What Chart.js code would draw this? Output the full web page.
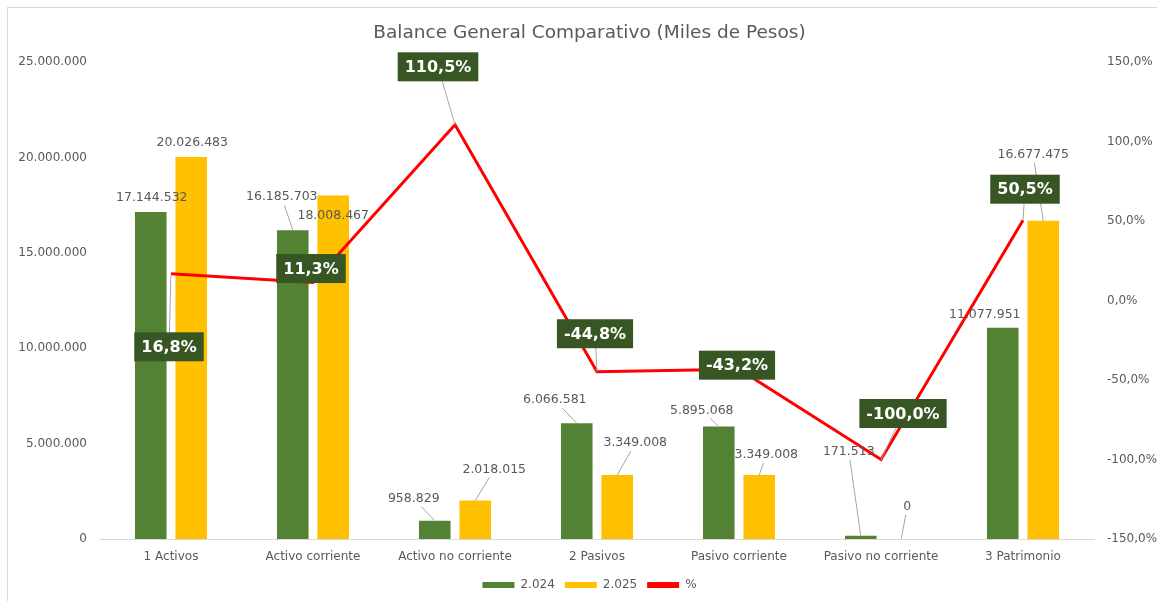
<!DOCTYPE html>
<html>
<head>
<meta charset="utf-8">
<script src="https://cdn.jsdelivr.net/npm/chart.js@4.4.1/dist/chart.umd.min.js"></script>
<style>
  body { margin: 0; background: #ffffff; }
  #wrap { width: 1157px; height: 601px; }
</style>
</head>
<body>
<div id="wrap"><canvas id="balance" width="1157" height="601"></canvas></div>
<script>
const categories = ["1 Activos", "Activo corriente", "Activo no corriente", "2 Pasivos", "Pasivo corriente", "Pasivo no corriente", "3 Patrimonio"];
const values2024 = [17144532, 16185703, 958829, 6066581, 5895068, 171513, 11077951];
const values2025 = [20026483, 18008467, 2018015, 3349008, 3349008, 0, 16677475];
const variation = [16.8, 11.3, 110.5, -44.8, -43.2, -100.0, 50.5];

// where each data label sits relative to its bar top / line point, and whether it gets a leader line
const offsets2024 = [[1, -14], [-11, -33], [-21, -22], [-22, -23], [-17, -16], [-12, -84], [-18, -13]];
const offsets2025 = [[1, -14], [0, 20], [19, -31], [18, -32], [7, -20], [6, -32], [-10, -66]];
const offsetsPct = [[-2, 73], [-2, -14], [-17, -58], [-2, -38], [-2, -4], [22, -46], [2, -31]];
const leaders2024 = [0, 1, 1, 1, 1, 1, 0];
const leaders2025 = [0, 0, 1, 1, 1, 1, 1];
const leadersPct = [1, 0, 1, 1, 0, 1, 1];

const FONT = "'DejaVu Sans', sans-serif";
const GREY = "#595959";

function miles(n) {
    return String(n).replace(/\B(?=(\d{3})+(?!\d))/g, ".");
}

function pct(v) {
    return v.toFixed(1).replace(".", ",") + "%";
}

// leader from the edge of the label box to the anchor
function drawLeader(ctx, cx, cy, hw, hh, ax, ay) {
    let dx = ax - cx, dy = ay - cy;
    let t = Math.min(dx !== 0 ? hw / Math.abs(dx) : Infinity, dy !== 0 ? hh / Math.abs(dy) : Infinity);
    if (t >= 1) return;
    ctx.save();
    ctx.strokeStyle = "#a6a6a6";
    ctx.lineWidth = 1;
    ctx.beginPath();
    ctx.moveTo(cx + dx * t, cy + dy * t);
    ctx.lineTo(ax, ay);
    ctx.stroke();
    ctx.restore();
}

const frame = {
    id: "frame",
    // let the left axis labels use the space left of the layout padding
    afterLayout(chart) {
        chart.scales.y.left = 0;
    },
    beforeDraw(chart) {
        let ctx = chart.ctx;
        ctx.save();
        ctx.fillStyle = "#ffffff";
        ctx.fillRect(0, 0, chart.width, chart.height);
        ctx.strokeStyle = "#d9d9d9";
        ctx.lineWidth = 1;
        ctx.strokeRect(7.5, 7.5, chart.width + 20, chart.height + 20);
        ctx.restore();
    }
};

const dataLabels = {
    id: "dataLabels",
    afterDatasetsDraw(chart) {
        let ctx = chart.ctx;
        ctx.save();
        ctx.font = "12.5px " + FONT;
        ctx.textAlign = "center";
        ctx.textBaseline = "middle";

        [[0, values2024, offsets2024, leaders2024], [1, values2025, offsets2025, leaders2025]].forEach(([idx, vals, offs, leads]) => {
            let meta = chart.getDatasetMeta(idx);
            meta.data.forEach((bar, i) => {
                let text = miles(vals[i]);
                let cx = bar.x + offs[i][0];
                let cy = bar.y + offs[i][1];
                let w = ctx.measureText(text).width;
                if (leads[i]) drawLeader(ctx, cx, cy, w / 2 + 1, 8, bar.x, bar.y);
                ctx.fillStyle = GREY;
                ctx.fillText(text, cx, cy);
            });
        });

        let line = chart.getDatasetMeta(2);
        ctx.font = "bold 16px " + FONT;
        line.data.forEach((pt, i) => {
            let text = pct(variation[i]);
            let cx = pt.x + offsetsPct[i][0];
            let cy = pt.y + offsetsPct[i][1];
            let w = ctx.measureText(text).width + 14;
            let h = 29;
            if (leadersPct[i]) drawLeader(ctx, cx, cy, w / 2, h / 2, pt.x, pt.y);
            ctx.fillStyle = "#375623";
            ctx.fillRect(cx - w / 2, cy - h / 2, w, h);
            ctx.fillStyle = "#ffffff";
            ctx.fillText(text, cx, cy + 1);
        });
        ctx.restore();
    }
};

let ctx = document.getElementById("balance").getContext("2d");
new Chart(ctx, {
    type: "bar",
    data: {
        labels: categories,
        datasets: [
            {
                label: "2.024",
                data: values2024,
                backgroundColor: "#548235",
                categoryPercentage: 0.57,
                barPercentage: 0.78,
                yAxisID: "y"
            },
            {
                label: "2.025",
                data: values2025,
                backgroundColor: "#FFC000",
                categoryPercentage: 0.57,
                barPercentage: 0.78,
                yAxisID: "y"
            },
            {
                type: "line",
                label: "%",
                data: variation,
                borderColor: "#FF0000",
                backgroundColor: "#FF0000",
                borderWidth: 3,
                pointRadius: 0,
                tension: 0,
                yAxisID: "y1",
                order: -1
            }
        ]
    },
    options: {
        responsive: false,
        animation: false,
        layout: { padding: { left: 22, right: 0, top: 0, bottom: 0 } },
        scales: {
            x: {
                grid: { display: false, drawTicks: false },
                border: { display: true, color: "#d9d9d9" },
                ticks: { color: GREY, font: { family: FONT, size: 12 }, padding: 11 },
                afterFit: s => { s.height = 30; }
            },
            y: {
                position: "left",
                min: 0,
                max: 25000000,
                grid: { display: false, drawTicks: false },
                border: { display: false },
                ticks: { stepSize: 5000000, color: GREY, font: { family: FONT, size: 12 }, padding: 13, callback: v => miles(v) },
                afterFit: s => { s.width = 78; }
            },
            y1: {
                position: "right",
                min: -150,
                max: 150,
                grid: { display: false, drawTicks: false },
                border: { display: false },
                ticks: { stepSize: 50, color: GREY, font: { family: FONT, size: 12 }, padding: 13, callback: v => pct(v) },
                afterFit: s => { s.width = 63; }
            }
        },
        plugins: {
            title: {
                display: true,
                text: "Balance General Comparativo (Miles de Pesos)",
                color: GREY,
                font: { family: FONT, size: 18.5, weight: "normal" },
                padding: { top: 21.9, bottom: 17.9 }
            },
            legend: {
                position: "bottom",
                labels: {
                    color: GREY,
                    font: { family: FONT, size: 12 },
                    boxWidth: 32,
                    boxHeight: 6,
                    padding: 10,
                    sort: (a, b) => a.datasetIndex - b.datasetIndex,
                    generateLabels: chart => Chart.defaults.plugins.legend.labels.generateLabels(chart).map(item => {
                        item.lineWidth = 0;
                        return item;
                    })
                }
            },
            tooltip: { enabled: false }
        }
    },
    plugins: [frame, dataLabels]
});
</script>
</body>
</html>
